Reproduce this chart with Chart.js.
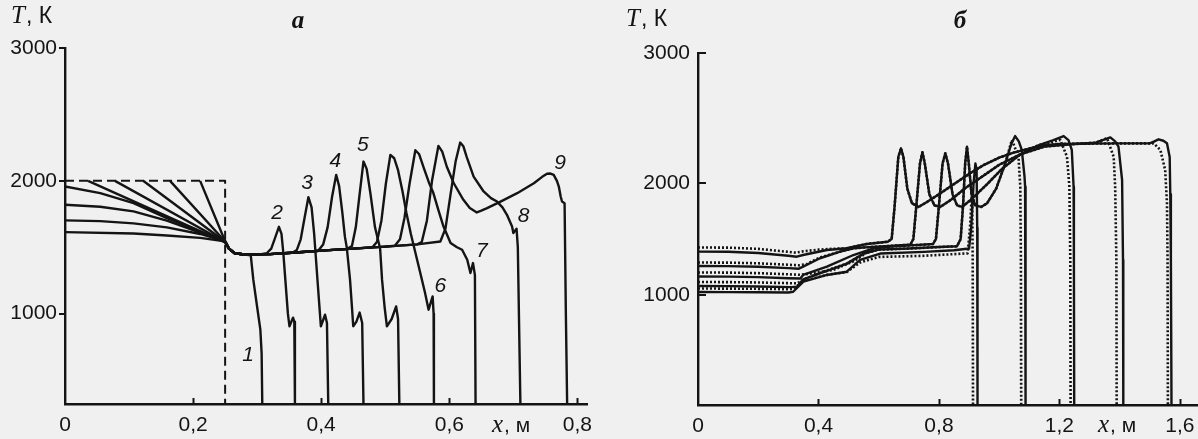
<!DOCTYPE html>
<html><head><meta charset="utf-8">
<script src="https://cdn.jsdelivr.net/npm/chart.js@4.4.1/dist/chart.umd.min.js"></script>
<style>
html,body{margin:0;padding:0;background:#f0f0f0;}
#wrap{position:relative;width:1198px;height:439px;overflow:hidden;background:#f0f0f0;}
canvas{position:absolute;top:0;}
#ca{left:0;} #cb{left:600px;}
</style></head><body>
<div id="wrap"><canvas id="ca" width="600" height="439"></canvas><canvas id="cb" width="598" height="439"></canvas></div>
<script>
// ---------------- DATA : panel a ----------------
const aTicksX = [0, 0.2, 0.4, 0.6, 0.8];
const aTickLabelsX = ['0', '0,2', '0,4', '0,6', '0,8'];
const ticksY = [1000, 2000, 3000];
const tickLabelsY = ['1000', '2000', '3000'];

const aInitial = [[0,2000],[0.25,2000],[0.25,320]];
const aCurve1 = [[0.211,2000],[0.25,1545],[0.256,1490],[0.265,1455],[0.28,1445],[0.29,1440],[0.294,1256],[0.300,1050],[0.305,880],[0.307,700],[0.308,320]];
const aCurve2 = [[0.164,2000],[0.25,1543],[0.256,1490],[0.265,1455],[0.28,1445],[0.30,1443],[0.315,1455],[0.322,1490],[0.328,1570],[0.334,1654],[0.338,1600],[0.341,1450],[0.344,1256],[0.348,1000],[0.3505,905],[0.356,970],[0.358,940],[0.359,320]];
const aCurve3 = [[0.122,2000],[0.25,1541],[0.256,1490],[0.265,1455],[0.28,1445],[0.32,1448],[0.355,1458],[0.362,1480],[0.368,1560],[0.374,1720],[0.380,1877],[0.385,1800],[0.389,1600],[0.392,1400],[0.395,1200],[0.3995,905],[0.406,992],[0.409,930],[0.411,320]];
const aCurve4 = [[0.078,2000],[0.25,1539],[0.256,1490],[0.265,1455],[0.28,1445],[0.32,1448],[0.36,1460],[0.395,1472],[0.403,1520],[0.41,1650],[0.417,1880],[0.4234,2045],[0.428,1960],[0.433,1760],[0.437,1580],[0.440,1495],[0.445,1256],[0.448,1050],[0.450,905],[0.455,940],[0.460,1008],[0.464,930],[0.466,320]];
const aCurve5 = [[0.036,2000],[0.25,1537],[0.256,1490],[0.265,1455],[0.28,1445],[0.32,1448],[0.36,1460],[0.40,1475],[0.44,1487],[0.448,1510],[0.454,1650],[0.460,1900],[0.466,2145],[0.471,2090],[0.477,1900],[0.484,1650],[0.492,1490],[0.495,1256],[0.499,1050],[0.5026,905],[0.51,960],[0.517,1055],[0.520,960],[0.522,320]];
const aCurve6 = [[0,1957],[0.055,1907],[0.107,1832],[0.159,1720],[0.211,1619],[0.25,1545],[0.256,1490],[0.265,1455],[0.28,1445],[0.32,1448],[0.36,1460],[0.40,1475],[0.45,1490],[0.480,1500],[0.487,1540],[0.494,1700],[0.501,1980],[0.508,2195],[0.514,2170],[0.52,2080],[0.527,1920],[0.533,1760],[0.540,1600],[0.547,1460],[0.555,1300],[0.562,1160],[0.5677,1030],[0.574,1130],[0.5755,1000],[0.576,320]];
const aCurve7 = [[0,1820],[0.055,1805],[0.107,1770],[0.159,1700],[0.211,1610],[0.25,1545],[0.256,1490],[0.265,1455],[0.28,1445],[0.32,1448],[0.36,1460],[0.40,1475],[0.45,1490],[0.50,1505],[0.515,1512],[0.523,1560],[0.530,1720],[0.538,1980],[0.547,2230],[0.553,2200],[0.560,2100],[0.568,1990],[0.575,1910],[0.583,1780],[0.591,1656],[0.602,1532],[0.612,1500],[0.620,1481],[0.628,1406],[0.633,1306],[0.637,1381],[0.640,1290],[0.641,320]];
const aCurve8 = [[0,1702],[0.055,1697],[0.107,1680],[0.159,1650],[0.211,1600],[0.25,1545],[0.256,1490],[0.265,1455],[0.28,1445],[0.32,1448],[0.36,1460],[0.40,1475],[0.45,1490],[0.50,1505],[0.55,1522],[0.586,1543],[0.594,1640],[0.602,1900],[0.610,2150],[0.617,2288],[0.622,2260],[0.627,2183],[0.638,2032],[0.6536,1920],[0.665,1870],[0.6745,1844],[0.683,1800],[0.690,1744],[0.698,1656],[0.700,1607],[0.705,1640],[0.707,1500],[0.711,320]];
const aCurve9 = [[0,1614],[0.107,1604],[0.159,1589],[0.211,1571],[0.25,1545],[0.256,1490],[0.265,1455],[0.28,1445],[0.32,1448],[0.36,1460],[0.40,1475],[0.45,1490],[0.50,1505],[0.55,1522],[0.557,1540],[0.565,1700],[0.573,2000],[0.583,2263],[0.589,2220],[0.596,2108],[0.607,1982],[0.622,1857],[0.632,1795],[0.643,1762],[0.650,1775],[0.659,1794],[0.680,1844],[0.706,1907],[0.732,1982],[0.745,2030],[0.7526,2053],[0.758,2055],[0.763,2045],[0.768,2000],[0.771,1957],[0.774,1880],[0.776,1844],[0.780,1832],[0.782,1000],[0.784,320]];
const aCurveLabels = [['1',0.286,690],['2',0.331,1757],['3',0.378,1983],['4',0.422,2145],['5',0.465,2271],['6',0.586,1205],['7',0.651,1468],['8',0.716,1732],['9',0.773,2133]];

// ---------------- DATA : panel б ----------------
const bTicksX = [0, 0.4, 0.8, 1.2, 1.6];
const bTickLabelsX = ['0', '0,4', '0,8', '1,2', '1,6'];

const bSolid1 = [[0,1027],[0.1,1026],[0.2,1024],[0.30,1022],[0.316,1029],[0.350,1119],[0.428,1179],[0.494,1208],[0.538,1313],[0.605,1370],[0.75,1385],[0.85,1400],[0.90,1415],[0.907,1600],[0.915,2000],[0.921,2150],[0.925,2100],[0.927,1600],[0.928,320]];
const bSolid2 = [[0,1080],[0.1,1079],[0.2,1076],[0.31,1070],[0.33,1075],[0.349,1140],[0.428,1215],[0.494,1280],[0.55,1370],[0.60,1405],[0.70,1415],[0.80,1428],[0.86,1435],[0.872,1500],[0.88,1800],[0.887,2150],[0.893,2279],[0.899,2150],[0.908,1900],[0.92,1800],[0.94,1786],[0.96,1820],[0.99,1950],[1.02,2150],[1.04,2300],[1.053,2361],[1.065,2320],[1.075,2254],[1.084,2050],[1.086,1967],[1.087,1313],[1.088,320]];
const bSolid3 = [[0,1165],[0.1,1164],[0.2,1160],[0.30,1150],[0.34,1147],[0.349,1179],[0.428,1253],[0.516,1357],[0.582,1417],[0.65,1435],[0.72,1445],[0.78,1455],[0.79,1500],[0.80,1800],[0.812,2150],[0.821,2228],[0.83,2150],[0.845,1900],[0.86,1800],[0.877,1786],[0.91,1860],[0.96,1990],[1.01,2110],[1.07,2220],[1.13,2290],[1.18,2330],[1.214,2361],[1.23,2330],[1.241,2254],[1.247,1967],[1.248,1313],[1.249,320]];
const bSolid4 = [[0,1259],[0.1,1258],[0.2,1252],[0.30,1240],[0.335,1235],[0.349,1253],[0.405,1328],[0.472,1387],[0.516,1417],[0.58,1430],[0.65,1440],[0.705,1450],[0.715,1500],[0.725,1800],[0.737,2150],[0.745,2236],[0.753,2150],[0.768,1900],[0.785,1800],[0.804,1786],[0.84,1850],[0.89,1960],[0.95,2060],[1.0,2140],[1.07,2220],[1.15,2280],[1.25,2300],[1.32,2310],[1.369,2351],[1.385,2320],[1.396,2279],[1.408,2023],[1.411,1313],[1.412,320]];
const bSolid5 = [[0,1387],[0.10,1386],[0.20,1375],[0.30,1350],[0.328,1342],[0.349,1357],[0.428,1402],[0.494,1417],[0.56,1455],[0.63,1476],[0.643,1500],[0.653,1800],[0.665,2200],[0.674,2267],[0.682,2200],[0.695,1950],[0.71,1820],[0.732,1786],[0.76,1830],[0.8,1900],[0.85,1990],[0.9,2070],[0.95,2140],[1.0,2195],[1.05,2235],[1.1,2265],[1.15,2290],[1.2,2300],[1.3,2303],[1.4,2305],[1.5,2305],[1.515,2320],[1.529,2336],[1.545,2325],[1.557,2305],[1.566,2200],[1.568,1900],[1.570,1313],[1.572,320]];

const bDotted1 = [[0,1058],[0.1,1057],[0.2,1055],[0.30,1052],[0.316,1055],[0.35,1125],[0.428,1180],[0.494,1205],[0.538,1290],[0.6,1340],[0.75,1350],[0.85,1365],[0.895,1372],[0.903,1600],[0.910,1950],[0.912,1300],[0.913,320]];
const bDotted2 = [[0,1116],[0.1,1115],[0.2,1112],[0.31,1105],[0.33,1105],[0.36,1150],[0.428,1220],[0.494,1280],[0.55,1370],[0.60,1405],[0.70,1415],[0.80,1428],[0.86,1435],[0.872,1500],[0.88,1800],[0.887,2150],[0.893,2279],[0.899,2150],[0.908,1900],[0.92,1800],[0.94,1786],[0.96,1820],[0.99,1950],[1.02,2150],[1.042,2331],[1.064,2202],[1.070,1967],[1.072,1313],[1.073,320]];
const bDotted3 = [[0,1201],[0.1,1200],[0.2,1195],[0.3,1185],[0.34,1180],[0.37,1190],[0.428,1215],[0.45,1225],[0.516,1300],[0.582,1417],[0.65,1435],[0.72,1445],[0.78,1455],[0.79,1500],[0.80,1800],[0.812,2150],[0.821,2228],[0.83,2150],[0.845,1900],[0.86,1800],[0.877,1786],[0.91,1860],[0.96,1990],[1.01,2110],[1.07,2220],[1.13,2290],[1.203,2331],[1.225,2202],[1.233,1967],[1.236,1313],[1.237,320]];
const bDotted4 = [[0,1290],[0.1,1289],[0.2,1283],[0.3,1270],[0.335,1265],[0.36,1275],[0.405,1335],[0.472,1387],[0.516,1417],[0.58,1430],[0.65,1440],[0.705,1450],[0.715,1500],[0.725,1800],[0.737,2150],[0.745,2236],[0.753,2150],[0.768,1900],[0.785,1800],[0.804,1786],[0.84,1850],[0.89,1960],[0.95,2060],[1.0,2140],[1.07,2220],[1.15,2280],[1.25,2300],[1.32,2310],[1.358,2344],[1.38,2202],[1.385,1967],[1.389,1313],[1.390,320]];
const bDotted5 = [[0,1424],[0.10,1423],[0.20,1412],[0.30,1385],[0.325,1378],[0.35,1390],[0.40,1405],[0.43,1410],[0.494,1417],[0.56,1455],[0.63,1476],[0.643,1500],[0.653,1800],[0.665,2200],[0.674,2267],[0.682,2200],[0.695,1950],[0.71,1820],[0.732,1786],[0.76,1830],[0.8,1900],[0.85,1990],[0.9,2070],[0.95,2140],[1.0,2195],[1.05,2235],[1.1,2265],[1.15,2290],[1.2,2300],[1.3,2303],[1.4,2305],[1.513,2305],[1.535,2254],[1.551,2100],[1.557,1820],[1.559,1313],[1.560,320]];

// tick label positions of panel б's (non-uniform, scanned) T axis
const bAxisValues = [320, 1000, 2000, 3000];
const bAxisFractions = [0, 0.3125, 0.6307, 1];

// ---------------- scale for panel б ----------------
function interp(v, xs, ys) {
  if (v <= xs[0]) return ys[0] + (v - xs[0]) * (ys[1] - ys[0]) / (xs[1] - xs[0]);
  for (let i = 1; i < xs.length; i++) {
    if (v <= xs[i]) return ys[i-1] + (v - xs[i-1]) * (ys[i] - ys[i-1]) / (xs[i] - xs[i-1]);
  }
  const n = xs.length - 1;
  return ys[n] + (v - xs[n]) * (ys[n] - ys[n-1]) / (xs[n] - xs[n-1]);
}
class PiecewiseScale extends Chart.LinearScale {
  static id = 'piecewise';
  static defaults = Chart.LinearScale.defaults;
  getPixelForValue(value) {
    return this.getPixelForDecimal(interp(value, bAxisValues, bAxisFractions));
  }
  getValueForPixel(pixel) {
    return interp(this.getDecimalForPixel(pixel), bAxisFractions, bAxisValues);
  }
}
Chart.register(PiecewiseScale);

const INK = '#141414';

// ---------------- annotation plugin ----------------
const annot = {
  id: 'annot',
  afterDraw(chart, args, o) {
    const ctx = chart.ctx, xs = chart.scales.x, ys = chart.scales.y;
    ctx.save();
    ctx.strokeStyle = INK; ctx.fillStyle = INK; ctx.lineWidth = 2;
    o.xInner.forEach(v => {
      const px = Math.round(xs.getPixelForValue(v)) + 0.5;
      ctx.beginPath(); ctx.moveTo(px, ys.bottom); ctx.lineTo(px, ys.bottom - 6); ctx.stroke();
    });
    o.yInner.forEach(v => {
      const py = Math.round(ys.getPixelForValue(v));
      ctx.beginPath(); ctx.moveTo(xs.left, py); ctx.lineTo(xs.left + 8, py); ctx.stroke();
    });
    ctx.textBaseline = 'alphabetic'; ctx.textAlign = 'left';
    ctx.font = 'italic 25px "Liberation Serif"';
    ctx.fillText('T', o.tk[0], o.tk[1]);
    let w = ctx.measureText('T').width;
    ctx.font = '23px "Liberation Sans"';
    ctx.fillText(', К', o.tk[0] + w + 1, o.tk[1]);
    ctx.font = 'italic 25px "Liberation Serif"';
    ctx.fillText('x', o.xm[0], o.xm[1]);
    w = ctx.measureText('x').width;
    ctx.font = '21px "Liberation Sans"';
    ctx.fillText(', м', o.xm[0] + w + 1, o.xm[1]);
    ctx.textAlign = 'center';
    ctx.font = 'bold italic 25px "Liberation Serif"';
    ctx.fillText(o.letter, o.lp[0], o.lp[1]);
    ctx.font = 'italic 21px "Liberation Sans"';
    ctx.textBaseline = 'middle';
    (o.curveLabels || []).forEach(([t, x, y]) => {
      ctx.fillText(t, xs.getPixelForValue(x), ys.getPixelForValue(y));
    });
    ctx.restore();
  }
};

function toXY(arr) { return arr.map(p => ({x: p[0], y: p[1]})); }
function lineDs(arr, extra) {
  return Object.assign({data: toXY(arr), borderColor: INK, borderWidth: 2.4, pointRadius: 0, tension: 0, fill: false,
    borderJoinStyle: 'round', borderCapStyle: 'butt'}, extra || {});
}

function makeOptions(c) {
  return {
    responsive: false, animation: false, events: [],
    layout: {padding: {top: c.top, right: c.right, left: 0, bottom: 0}},
    plugins: {legend: {display: false}, tooltip: {enabled: false}, annot: c.annot},
    scales: {
      x: {
        type: 'linear', min: 0, max: c.xmax,
        afterFit: s => { s.height = c.xh; s.paddingLeft = 0; s.paddingRight = 0; },
        afterBuildTicks: s => { s.ticks = c.xticks.map(v => ({value: v})); },
        grid: {display: false, drawTicks: false},
        border: {display: true, color: INK, width: 2.4},
        ticks: {padding: 9, color: INK, autoSkip: false, maxRotation: 0,
          font: {family: 'Liberation Sans', size: 21},
          callback: v => c.xlabels[c.xticks.indexOf(v)]}
      },
      y: {
        type: c.ytype, min: c.ymin, max: 3000,
        afterFit: s => { s.width = c.yw; s.paddingTop = 0; s.paddingBottom = 0; },
        afterBuildTicks: s => { s.ticks = ticksY.map(v => ({value: v})); },
        grid: {display: c.yOuterTicks, drawOnChartArea: false, drawTicks: c.yOuterTicks, tickLength: 6, color: INK, lineWidth: 2},
        border: {display: true, color: INK, width: 2.4},
        ticks: {padding: c.ypad, color: INK, autoSkip: false,
          font: {family: 'Liberation Sans', size: 21},
          callback: v => tickLabelsY[ticksY.indexOf(v)]}
      }
    }
  };
}

new Chart(document.getElementById('ca'), {
  type: 'line',
  data: {datasets: [
    lineDs(aCurve1), lineDs(aCurve2), lineDs(aCurve3), lineDs(aCurve4), lineDs(aCurve5),
    lineDs(aCurve6), lineDs(aCurve7), lineDs(aCurve8), lineDs(aCurve9),
    lineDs(aInitial, {borderDash: [9, 5], borderWidth: 2})
  ]},
  options: makeOptions({top: 48, right: 13, xmax: 0.815, xh: 35, yw: 65, ytype: 'linear', ymin: 320,
    xticks: aTicksX, xlabels: aTickLabelsX, yOuterTicks: true, ypad: 2,
    annot: {xInner: [0.2, 0.4, 0.6, 0.8], yInner: [], tk: [11, 23], xm: [492, 432], letter: 'a', lp: [298, 28],
      curveLabels: aCurveLabels}}),
  plugins: [annot]
});

const dotted = {borderDash: [2, 2], borderWidth: 2.6};
new Chart(document.getElementById('cb'), {
  type: 'line',
  data: {datasets: [
    lineDs(bSolid1), lineDs(bSolid2), lineDs(bSolid3), lineDs(bSolid4), lineDs(bSolid5),
    lineDs(bDotted1, dotted), lineDs(bDotted2, dotted), lineDs(bDotted3, dotted), lineDs(bDotted4, dotted), lineDs(bDotted5, dotted)
  ]},
  options: makeOptions({top: 53, right: 0, xmax: 1.66, xh: 34, yw: 98, ytype: 'piecewise', ymin: 320,
    xticks: bTicksX, xlabels: bTickLabelsX, yOuterTicks: false, ypad: 8,
    annot: {xInner: [0.4, 0.8, 1.2, 1.6], yInner: [1000, 2000, 3000], tk: [26, 26], xm: [498, 432], letter: 'б', lp: [360, 28],
      curveLabels: []}}),
  plugins: [annot]
});
</script></body></html>
